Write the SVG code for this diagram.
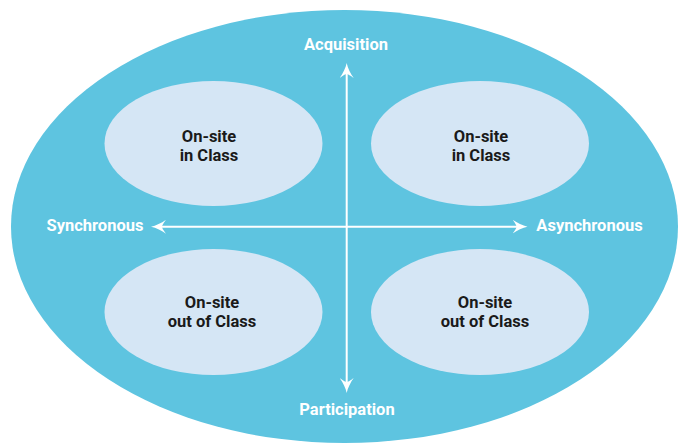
<svg xmlns="http://www.w3.org/2000/svg" width="678" height="443" viewBox="0 0 678 443">
<style>
.bg{fill:#5ec4e0}
.node{fill:#d5e6f5}
.nt{font-family:Roboto,"Liberation Sans",sans-serif;font-weight:bold;font-size:16.5px;fill:#1a1a1a;text-anchor:middle}
.lbl{font-family:Roboto,"Liberation Sans",sans-serif;font-weight:bold;font-size:16.5px;fill:#ffffff;text-anchor:middle}
.axis{stroke:#ffffff;stroke-width:2;fill:none}
</style>
<defs>
<marker id="arr" viewBox="0 0 15 14" refX="10" refY="7" markerWidth="15" markerHeight="14" markerUnits="userSpaceOnUse" orient="auto-start-reverse">
<path d="M15,7 C10,6 4,3 0,0 C3,4 4,6 4,7 C4,8 3,10 0,14 C4,11 10,8 15,7 Z" fill="#ffffff"/>
</marker>
</defs>
<ellipse class="bg" cx="344.5" cy="226.5" rx="333.5" ry="216.5"/>
<g id="node-tl">
<ellipse class="node" cx="213.5" cy="143.5" rx="109" ry="62.5"/>
<text class="nt" x="209" y="141.5">On-site</text>
<text class="nt" x="209" y="160.5">in Class</text>
</g>
<g id="node-tr">
<ellipse class="node" cx="480" cy="143.5" rx="109" ry="62.5"/>
<text class="nt" x="481" y="141.5">On-site</text>
<text class="nt" x="481" y="160.5">in Class</text>
</g>
<g id="node-bl">
<ellipse class="node" cx="213.5" cy="312" rx="109" ry="63"/>
<text class="nt" x="212" y="307.5">On-site</text>
<text class="nt" x="212" y="326.5">out of Class</text>
</g>
<g id="node-br">
<ellipse class="node" cx="480" cy="312" rx="109" ry="63"/>
<text class="nt" x="485" y="307.5">On-site</text>
<text class="nt" x="485" y="326.5">out of Class</text>
</g>
<g id="connectors">
<path class="axis" d="M346.7,68 L346.7,388" marker-start="url(#arr)" marker-end="url(#arr)"/>
<path class="axis" d="M156,226.7 L522.5,226.7" marker-start="url(#arr)" marker-end="url(#arr)"/>
</g>
<g id="labels">
<text class="lbl" x="346" y="49.5">Acquisition</text>
<text class="lbl" x="347" y="415">Participation</text>
<text class="lbl" x="95" y="231">Synchronous</text>
<text class="lbl" x="589.5" y="231">Asynchronous</text>
</g>
</svg>
